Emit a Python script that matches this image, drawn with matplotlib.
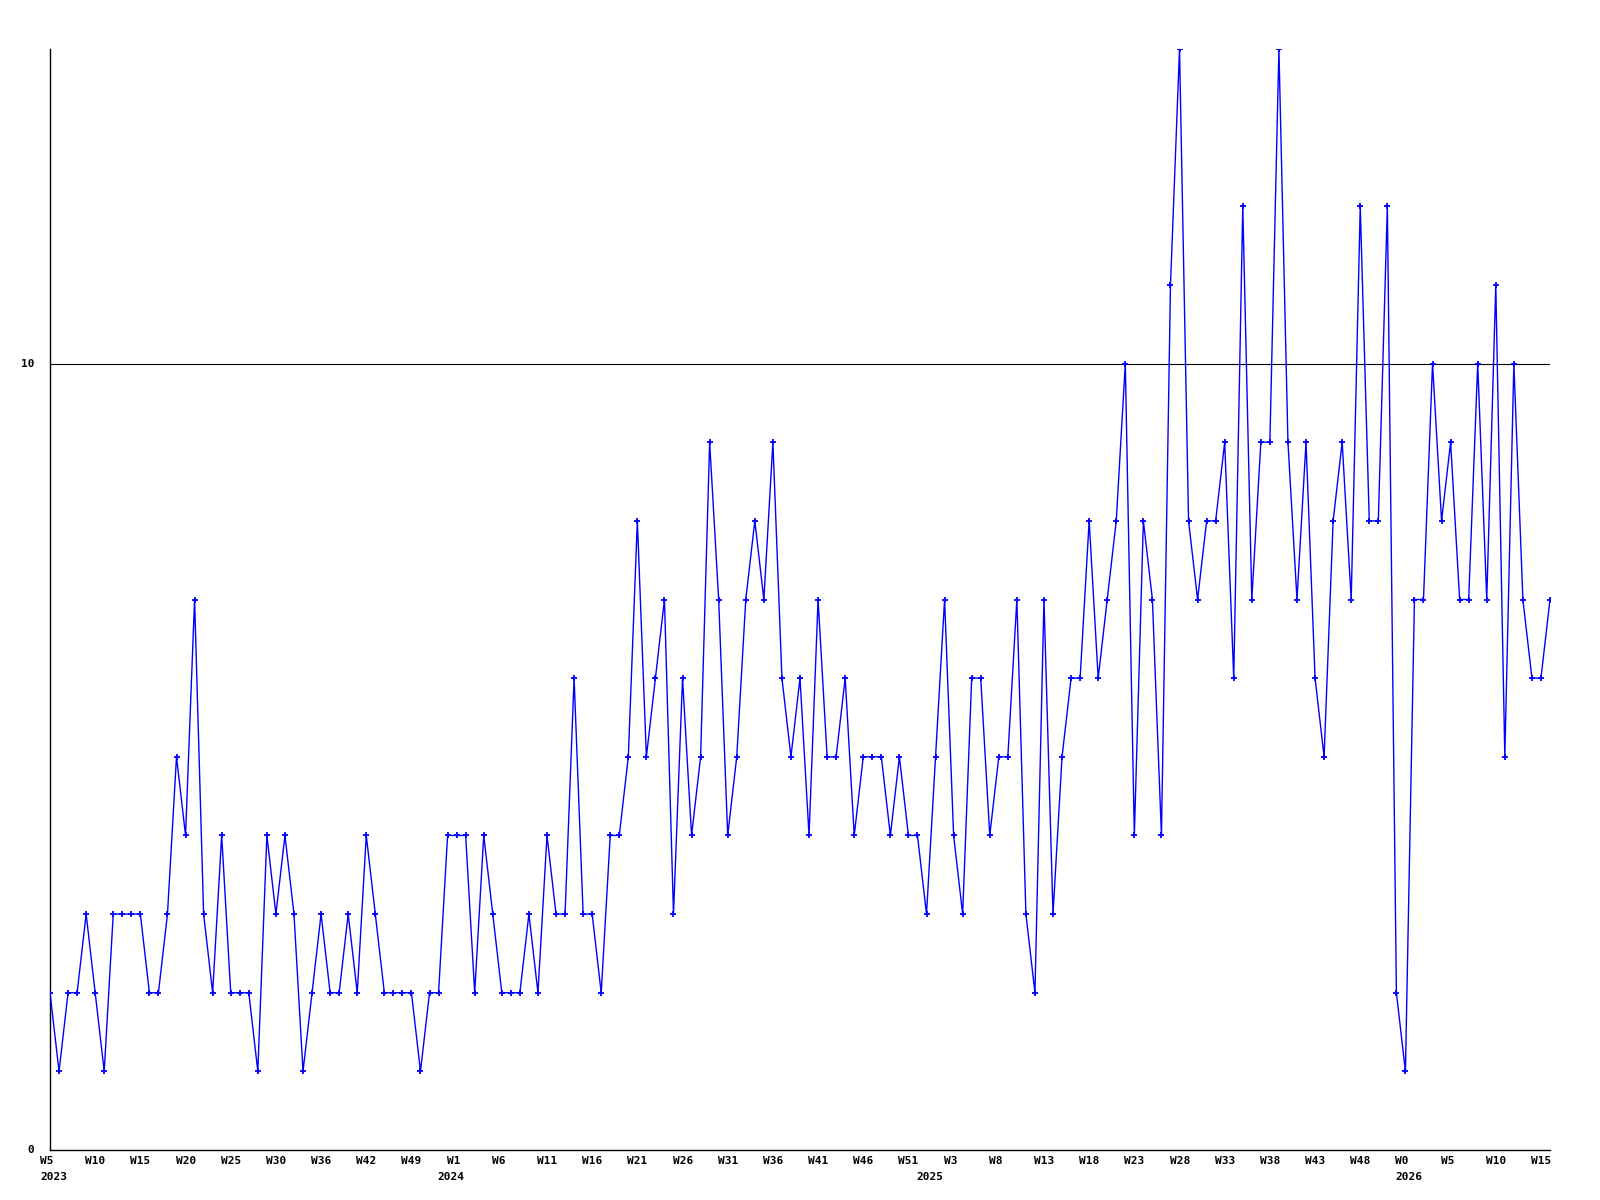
import matplotlib
matplotlib.use("Agg")
import matplotlib.pyplot as plt

values = [2, 1, 2, 2, 3, 2, 1, 3, 3, 3, 3, 2, 2, 3, 5, 4, 7, 3, 2, 4,
          2, 2, 2, 1, 4, 3, 4, 3, 1, 2, 3, 2, 2, 3, 2, 4, 3, 2, 2, 2,
          2, 1, 2, 2, 4, 4, 4, 2, 4, 3, 2, 2, 2, 3, 2, 4, 3, 3, 6, 3,
          3, 2, 4, 4, 5, 8, 5, 6, 7, 3, 6, 4, 5, 9, 7, 4, 5, 7, 8, 7,
          9, 6, 5, 6, 4, 7, 5, 5, 6, 4, 5, 5, 5, 4, 5, 4, 4, 3, 5, 7,
          4, 3, 6, 6, 4, 5, 5, 7, 3, 2, 7, 3, 5, 6, 6, 8, 6, 7, 8, 10,
          4, 8, 7, 4, 11, 14, 8, 7, 8, 8, 9, 6, 12, 7, 9, 9, 14, 9, 7, 9,
          6, 5, 8, 9, 7, 12, 8, 8, 12, 2, 1, 7, 7, 10, 8, 9, 7, 7, 10, 7,
          11, 5, 10, 7, 6, 6, 7]

week_tick_idx = list(range(0, 166, 5))
week_labels = ["W5", "W10", "W15", "W20", "W25", "W30", "W36", "W42", "W49",
               "W1", "W6", "W11", "W16", "W21", "W26", "W31", "W36", "W41",
               "W46", "W51", "W3", "W8", "W13", "W18", "W23", "W28", "W33",
               "W38", "W43", "W48", "W0", "W5", "W10", "W15"]
year_idx = [0, 44, 97, 150]
year_labels = ["2023", "2024", "2025", "2026"]
y_ticks = [0, 10]

fig = plt.figure(figsize=(16, 12), dpi=100)
ax = fig.add_axes([50/1600, 1 - 1150/1200, 1500/1600, 1101/1200])

x = list(range(len(values)))
ax.plot(x, values, color="#0000ff", linewidth=1.0, marker="+",
        markersize=4, markeredgewidth=1.3, zorder=3)

ax.set_xlim(0, len(values) - 1)
ax.set_ylim(0, 14)

for s in ["top", "right"]:
    ax.spines[s].set_visible(False)
for s in ["left", "bottom"]:
    ax.spines[s].set_color("black")
    ax.spines[s].set_linewidth(1.0)

ax.axhline(10, color="black", linewidth=0.8, zorder=1)

ax.set_xticks([])
ax.set_yticks([])

font = dict(family="DejaVu Sans Mono", fontsize=8, fontweight="bold", color="black")

for v in y_ticks:
    ax.annotate(str(v), xy=(0, v), xycoords=("axes fraction", "data"),
                xytext=(-16*0.72, 0), textcoords="offset points",
                ha="right", va="center", **font)

for i, lab in zip(week_tick_idx, week_labels):
    ax.annotate(lab, xy=(i, 0), xycoords="data",
                xytext=(-10*0.72, -11*0.72), textcoords="offset points",
                ha="left", va="center", annotation_clip=False, **font)

for i, lab in zip(year_idx, year_labels):
    ax.annotate(lab, xy=(i, 0), xycoords="data",
                xytext=(-10*0.72, -27*0.72), textcoords="offset points",
                ha="left", va="center", annotation_clip=False, **font)

fig.savefig("out.png", dpi=100, facecolor="white")
